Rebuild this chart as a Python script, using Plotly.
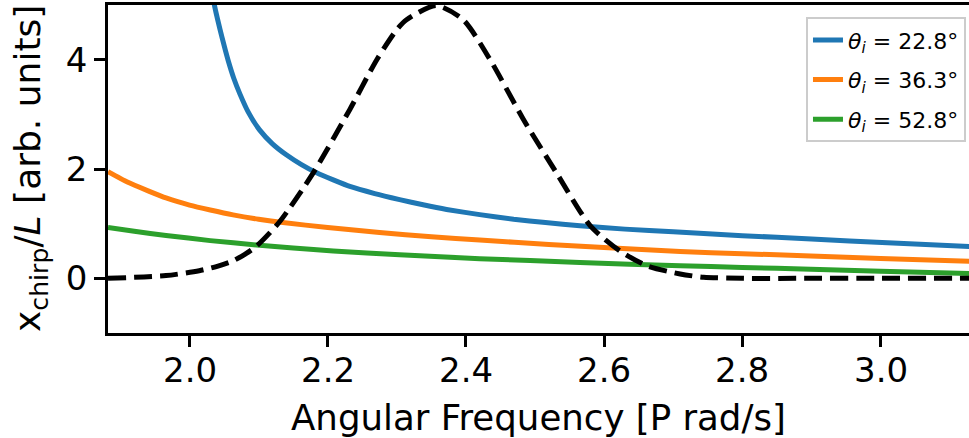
import plotly.graph_objects as go

# ---- data ----
blue_x = [2.033, 2.036, 2.040, 2.044, 2.050, 2.056, 2.064, 2.073, 2.085, 2.101, 2.120, 2.140, 2.162,
          2.184, 2.208, 2.232, 2.268, 2.304, 2.338, 2.372, 2.42, 2.469, 2.515, 2.565, 2.63, 2.70,
          2.80, 2.90, 3.01, 3.13]
blue_y = [5.4, 5.0, 4.77, 4.56, 4.26, 3.98, 3.66, 3.37, 3.04, 2.72, 2.46, 2.26, 2.08,
          1.93, 1.80, 1.68, 1.55, 1.44, 1.345, 1.26, 1.165, 1.08, 1.02, 0.96, 0.90, 0.85,
          0.78, 0.72, 0.65, 0.58]

orange_x = [1.882, 1.91, 1.94, 1.966, 2.00, 2.03, 2.063, 2.10, 2.135, 2.20, 2.275, 2.35, 2.42,
            2.52, 2.613, 2.71, 2.80, 2.899, 3.0, 3.13]
orange_y = [1.95, 1.76, 1.60, 1.47, 1.34, 1.25, 1.16, 1.08, 1.02, 0.93, 0.84, 0.76, 0.70,
            0.62, 0.555, 0.49, 0.45, 0.41, 0.365, 0.31]

green_x = [1.882, 1.92, 1.966, 2.03, 2.097, 2.15, 2.208, 2.304, 2.42, 2.565, 2.71, 2.80, 2.899, 3.0, 3.13]
green_y = [0.93, 0.86, 0.785, 0.69, 0.61, 0.555, 0.50, 0.43, 0.36, 0.29, 0.23, 0.20, 0.165, 0.13, 0.09]

pulse_x = [1.882, 1.966, 2.014, 2.040, 2.063, 2.080, 2.097, 2.130, 2.179, 2.232, 2.271, 2.30, 2.314,
           2.357, 2.396, 2.435, 2.483, 2.531, 2.58, 2.623, 2.662, 2.71, 2.744, 2.80, 2.90, 3.0, 3.13]
pulse_y = [0.0, 0.05, 0.14, 0.22, 0.32, 0.44, 0.59, 1.03, 1.93, 3.09, 4.0, 4.55, 4.73,
           4.99, 4.73, 4.0, 2.91, 1.93, 0.96, 0.50, 0.23, 0.08, 0.02, 0.0, 0.0, 0.0, 0.0]

labels = ["<i>θ<sub>i</sub></i> = 22.8°", "<i>θ<sub>i</sub></i> = 36.3°", "<i>θ<sub>i</sub></i> = 52.8°"]
colors = ["#1f77b4", "#ff7f0e", "#2ca02c"]

x_ticks = [2.0, 2.2, 2.4, 2.6, 2.8, 3.0]
x_ticklabels = ["2.0", "2.2", "2.4", "2.6", "2.8", "3.0"]
y_ticks = [0, 2, 4]
y_ticklabels = ["0", "2", "4"]

x_title = "Angular Frequency [P rad/s]"
y_title = "x<sub>chirp</sub>/<i>L</i> [arb. units]"

FONT = "DejaVu Sans"

fig = go.Figure()
for i, (xs, ys) in enumerate([(blue_x, blue_y), (orange_x, orange_y), (green_x, green_y)]):
    fig.add_trace(go.Scatter(
        x=xs, y=ys, mode="lines", name=labels[i], legendgroup=f"g{i}",
        line=dict(color=colors[i], width=5, shape="spline", smoothing=0.5),
    ))
fig.add_trace(go.Scatter(
    x=pulse_x, y=pulse_y, mode="lines", showlegend=False,
    line=dict(color="black", width=5, dash="18px,8px", shape="spline", smoothing=0.7),
))

axis_common = dict(
    showline=True, linecolor="black", linewidth=2.5,
    ticks="outside", ticklen=11, tickwidth=2.5, tickcolor="black",
    showgrid=False, zeroline=False,
    tickfont=dict(family=FONT, size=34, color="black"),
)

# x tick labels placed just below the axis, at the tick values
annotations = [
    dict(x=v, y=0, xref="x", yref="paper", text=t, showarrow=False,
         xanchor="center", yanchor="middle", yshift=-37,
         font=dict(family=FONT, size=34, color="black"))
    for v, t in zip(x_ticks, x_ticklabels)
]
annotations.append(dict(
    x=0.5, y=0, xref="paper", yref="paper", text=x_title, showarrow=False,
    xanchor="center", yanchor="middle", yshift=-84,
    font=dict(family=FONT, size=35.6, color="black")))
annotations.append(dict(
    x=0, y=0.5, xref="paper", yref="paper", text=y_title, showarrow=False, textangle=-90,
    xanchor="center", yanchor="middle", xshift=-78,
    font=dict(family=FONT, size=36, color="black")))

fig.update_layout(
    width=969, height=438,
    margin=dict(l=108, r=0, t=5, b=105),
    plot_bgcolor="white", paper_bgcolor="white",
    font=dict(family=FONT, color="black"),
    xaxis=dict(
        range=[1.882, 3.128], tickvals=x_ticks, showticklabels=False,
        mirror=True, **axis_common,
    ),
    yaxis=dict(
        range=[-1, 5], tickvals=y_ticks, ticktext=y_ticklabels,
        mirror=False, **axis_common,
    ),
    annotations=annotations,
    legend=dict(
        x=0.9965, y=0.963, xanchor="right", yanchor="top",
        bgcolor="rgba(255,255,255,0.8)", bordercolor="#cccccc", borderwidth=2,
        font=dict(family=FONT, size=22, color="black"),
        tracegroupgap=8,
    ),
)

fig.write_html("out.html")
